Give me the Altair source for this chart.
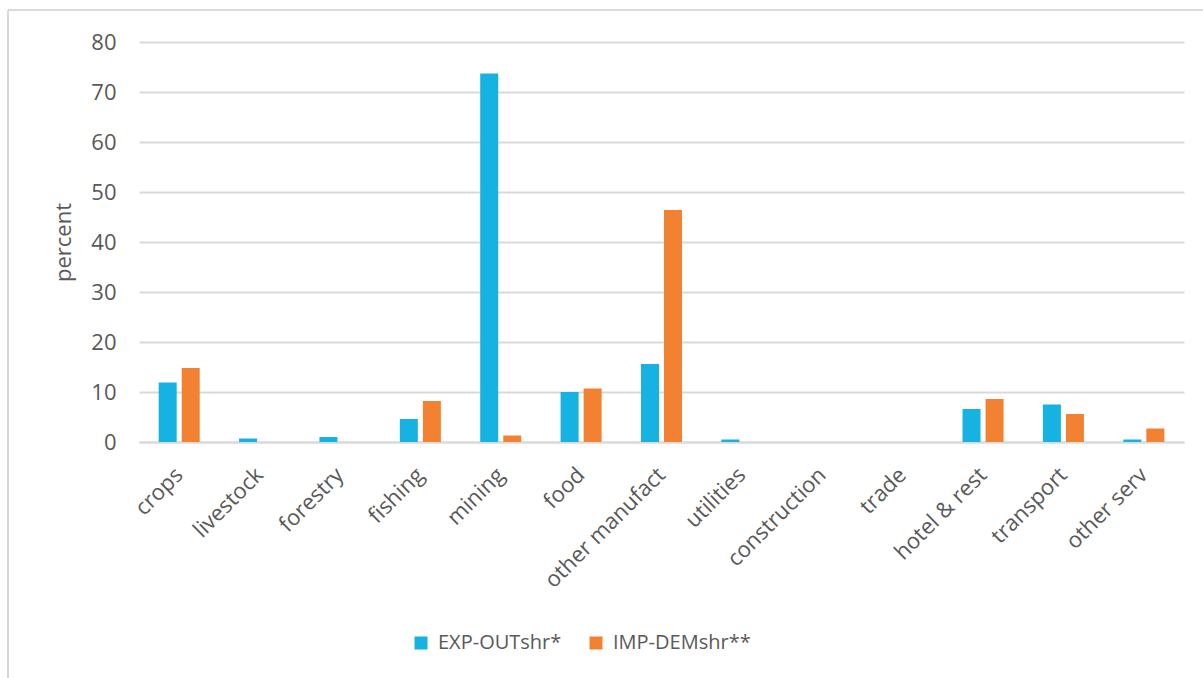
import altair as alt
import pandas as pd

# Sector shares (percent)
sectors = ["crops", "livestock", "forestry", "fishing", "mining", "food",
           "other manufact", "utilities", "construction", "trade",
           "hotel & rest", "transport", "other serv"]
exp_out_shr = [11.9, 0.7, 1.0, 4.6, 73.7, 10.0, 15.6, 0.5, 0.0, 0.0, 6.6, 7.5, 0.5]
imp_dem_shr = [14.8, 0.0, 0.0, 8.2, 1.3, 10.7, 46.4, 0.0, 0.0, 0.0, 8.6, 5.6, 2.7]
series_names = ["EXP-OUTshr*", "IMP-DEMshr**"]
series_colors = ["#15B2E2", "#F28232"]
y_ticks = [0, 10, 20, 30, 40, 50, 60, 70, 80]

rows = []
for s, e, i in zip(sectors, exp_out_shr, imp_dem_shr):
    rows.append({"sector": s, "series": series_names[0], "value": e})
    rows.append({"sector": s, "series": series_names[1], "value": i})
df = pd.DataFrame(rows)

TEXT = "#595959"
GRID = "#D9D9D9"
FONT = "Open Sans"

bars = alt.Chart(df).mark_bar(size=18).encode(
    x=alt.X("sector:N", sort=sectors,
            scale=alt.Scale(paddingInner=0.49, paddingOuter=0.245),
            axis=alt.Axis(title=None, labelAngle=315, labelAlign="right",
                          labelBaseline="middle", labelFontSize=22,
                          labelColor=TEXT, labelFont=FONT, ticks=False,
                          labelPadding=29, domainColor=GRID, domainWidth=2)),
    xOffset=alt.XOffset("series:N", sort=series_names,
                        scale=alt.Scale(paddingInner=0.22)),
    y=alt.Y("value:Q", scale=alt.Scale(domain=[0, 80]),
            axis=alt.Axis(title="percent", values=y_ticks, domain=False,
                          ticks=False, labelFontSize=22, labelColor=TEXT,
                          labelFont=FONT, labelPadding=23, titleFontSize=22,
                          titleColor=TEXT, titleFont=FONT,
                          titleFontWeight="normal", titlePadding=15,
                          gridColor=GRID, gridWidth=1.8)),
    color=alt.Color("series:N", sort=series_names,
                    scale=alt.Scale(domain=series_names, range=series_colors),
                    legend=alt.Legend(title=None, orient="none",
                                      direction="horizontal",
                                      legendX=272, legendY=591,
                                      symbolType="square", symbolSize=169,
                                      symbolStrokeWidth=0,
                                      labelFontSize=20, labelColor=TEXT,
                                      labelFont=FONT, columnPadding=24,
                                      labelOffset=7)),
)

# Outer chart frame (top and left edges)
frame_top = alt.Chart(df).mark_rule(color=GRID, strokeWidth=2).encode(
    x=alt.value(-131), x2=alt.value(1100), y=alt.value(-32))
frame_left = alt.Chart(df).mark_rule(color=GRID, strokeWidth=2).encode(
    x=alt.value(-131), y=alt.value(-32), y2=alt.value(700))

chart = alt.layer(bars, frame_top, frame_left).properties(
    width=1045, height=400,
    autosize=alt.AutoSizeParams(type="none"),
    padding={"left": 139, "top": 42, "right": 19, "bottom": 236},
    background="white",
).configure_view(stroke=None)

chart.save("out.html", embed_options={"renderer": "svg", "actions": False})
